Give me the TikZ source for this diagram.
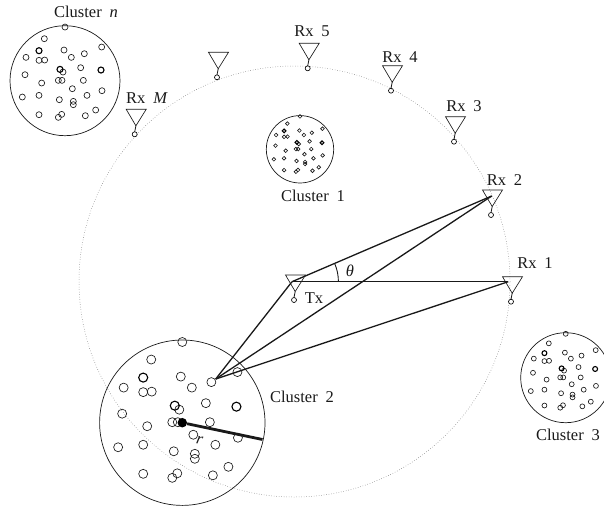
\documentclass[tikz,border=0pt]{standalone}
\usepackage{fontspec}
\setmainfont[WordSpace=1.9]{Liberation Serif}
\usetikzlibrary{positioning}
\tikzset{
  lbl/.style={inner sep=0pt,font=\fontsize{16.5}{19}\selectfont,black!90},
  link/.style={line width=1.3pt,black!90},
  clusterdisc/.pic={
    \draw[line width=0.7pt,black!90] (0,0) circle (165);
    \foreach \x/\y in {195/81,133/116,305/141,192/150,253/161,78/172,117/181,134/180,214/172,189/216,242/203,75/224,175/241,186/241,250/241,125/249,217/266,306/272,67/291,117/286,261/286,178/299,220/304,220/314,287/330,117/344,185/343,175/352,256/347}
      \draw[line width=0.65pt,black!90] (\x-195,\y-242) circle (9);
    \foreach \x/\y in {117/152,180/208,303/210}
      \draw[line width=1.1pt] (\x-195,\y-242) circle (9);
  },
  antenna/.pic={
    \draw[line width=0.65pt,black!90] (-8.5,-25) -- (11.5,-25) -- (1.2,-8.5) -- cycle;
    \draw[line width=0.8pt,black!90] (1.2,-8.5) -- (0,-2.5);
    \draw[line width=0.65pt] (0,0) circle (2.5);
  }
}

\begin{document}
\begin{tikzpicture}[x=1pt,y=-1pt]
  \useasboundingbox (0,0) rectangle (604,511);
  \node[draw=black!60,dotted,line width=0.5pt,circle,minimum size=431pt,inner sep=0pt] (range) at (294.5,281.5) {};

  % clusters
  \pic[scale=0.3333] at (65,80.7) {clusterdisc};
  \pic[scale=0.2042] at (300,149.3) {clusterdisc};
  \pic[scale=0.5012] at (182.3,422.7) {clusterdisc};
  \pic[scale=0.2727] at (565.7,377.7) {clusterdisc};

  % antennas
  \pic at (294,300) {antenna};
  \pic at (511,301.7) {antenna};
  \pic at (491,215) {antenna};
  \pic at (454,141.7) {antenna};
  \pic at (391,90.7) {antenna};
  \pic at (307.7,68.3) {antenna};
  \pic at (217,77.3) {antenna};
  \pic at (134.7,134.3) {antenna};

  % labels
  \node[lbl] (cn) at (86,12) {Cluster \textit{n}};
  \node[lbl] (c1) at (313,195.5) {Cluster 1};
  \node[lbl] (c2) at (302,397) {Cluster 2};
  \node[lbl] (c3) at (568,435) {Cluster 3};
  \node[lbl] (rxm) at (147,98) {Rx \textit{M}};
  \node[lbl] (rx5) at (312,31) {Rx 5};
  \node[lbl] (rx4) at (400,57) {Rx 4};
  \node[lbl] (rx3) at (464,106) {Rx 3};
  \node[lbl] (rx2) at (504.5,180) {Rx 2};
  \node[lbl] (rx1) at (535,263) {Rx 1};
  \node[lbl] (txl) at (314,298) {Tx};
  \node[lbl] (ang) at (350,271) {\textit{θ}};

  % paths
  \coordinate (tx) at (292,281.7);
  \coordinate (rxa) at (508.3,281.7);
  \coordinate (rxb) at (491.7,196);
  \coordinate (scat) at (215.7,379);
  \draw[link] (scat) -- (tx);
  \draw[link] (scat) -- (rxb);
  \draw[link] (scat) -- (rxa);
  \draw[link] (tx) -- (rxb);
  \draw[link] (tx) -- (rxa);
  \draw[line width=0.9pt,black!90] (338.4,281.7) arc (0:-23:46.4);

  % radius
  \node[circle,fill=black,inner sep=0pt,minimum size=9.5pt] (hub) at (182.3,422.7) {};
  \coordinate (rim) at (262.5,439.5);
  \draw[line width=2.8pt,black!90] (hub) -- (rim);
  \node[lbl,rotate=-12] (rad) at (199.5,440) {\textit{r}};
\end{tikzpicture}
\end{document}
